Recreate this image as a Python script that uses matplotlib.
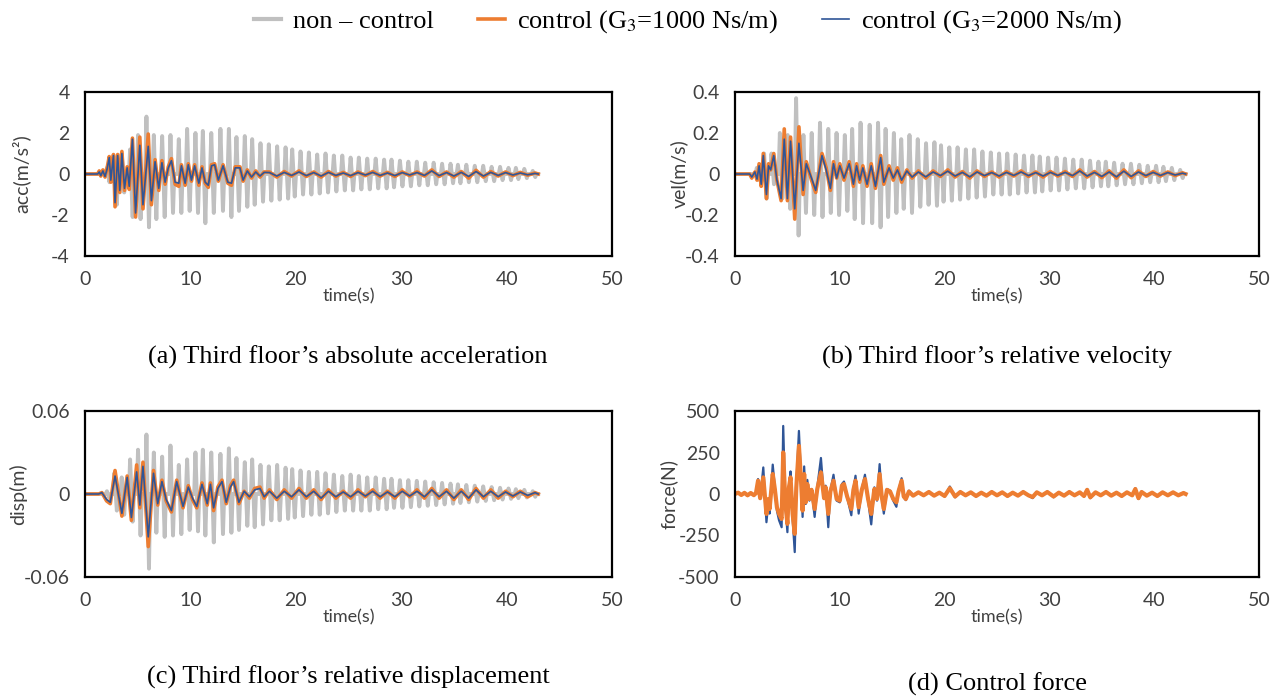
import numpy as np
import matplotlib
matplotlib.use("Agg")
import matplotlib.pyplot as plt

plt.rcParams['font.family'] = ['Lato', 'DejaVu Sans']
plt.rcParams['mathtext.fontset'] = 'stix'

# colores
GRIS = '#C0C0C0'
NARANJA = '#ED7D31'
AZUL = '#2F5597'

# ---- datos: non-control (picos por ciclo) ----
t_ciclo = [2.2, 2.9, 3.6, 4.4, 5.15, 5.95, 6.65, 7.44, 8.23, 9.02, 9.81, 10.6, 11.3, 12.1, 12.97,
           13.77, 14.49, 15.28, 15.98, 16.77, 17.56, 18.35, 19.15, 19.78, 20.57, 21.36, 22.15,
           22.94, 23.73, 24.53, 25.32, 26.1, 26.9, 27.7, 28.5, 29.2, 30.0, 30.8, 31.6, 32.4,
           33.2, 34.0, 34.8, 35.5, 36.3, 37.1, 37.9, 38.7, 39.5, 40.3, 41.0, 41.8, 42.6]

acc_nc_max = [0.3, 0.8, 1.0, 1.2, 1.9, 2.8, 1.9, 1.85, 1.9, 1.7, 2.2, 2.0, 2.1, 2.0, 2.2, 2.2, 1.8,
              1.85, 1.7, 1.5, 1.45, 1.35, 1.3, 1.2, 1.1, 1.05, 0.95, 1.0, 0.9, 0.9, 0.8, 0.8, 0.75,
              0.75, 0.7, 0.7, 0.65, 0.6, 0.6, 0.55, 0.55, 0.5, 0.5, 0.45, 0.45, 0.4, 0.4, 0.35,
              0.35, 0.3, 0.3, 0.25, 0.15]
acc_nc_min = [-0.4, -1.5, -0.9, -2.1, -2.2, -2.6, -2.2, -2.1, -1.9, -1.9, -1.8, -1.9, -2.4, -1.9,
              -1.8, -2.1, -1.8, -1.6, -1.5, -1.35, -1.3, -1.25, -1.2, -1.1, -1.0, -1.0, -0.95, -0.9,
              -0.85, -0.8, -0.8, -0.75, -0.75, -0.7, -0.7, -0.65, -0.6, -0.6, -0.55, -0.55, -0.5,
              -0.5, -0.45, -0.45, -0.4, -0.4, -0.35, -0.35, -0.3, -0.3, -0.25, -0.2, -0.15]

vel_nc_max = [0.03, 0.1, 0.1, 0.2, 0.19, 0.37, 0.19, 0.2, 0.25, 0.22, 0.2, 0.19, 0.22, 0.25, 0.24,
              0.25, 0.22, 0.2, 0.17, 0.19, 0.17, 0.15, 0.155, 0.14, 0.13, 0.13, 0.12, 0.12, 0.11,
              0.105, 0.1, 0.1, 0.095, 0.09, 0.09, 0.085, 0.08, 0.08, 0.075, 0.07, 0.07, 0.065,
              0.06, 0.06, 0.055, 0.05, 0.05, 0.045, 0.04, 0.04, 0.035, 0.03, 0.02]
vel_nc_min = [-0.03, -0.12, -0.05, -0.12, -0.17, -0.3, -0.19, -0.2, -0.21, -0.19, -0.2, -0.18,
              -0.22, -0.24, -0.24, -0.26, -0.21, -0.19, -0.17, -0.19, -0.16, -0.15, -0.155, -0.135,
              -0.13, -0.125, -0.12, -0.115, -0.11, -0.1, -0.1, -0.1, -0.095, -0.09, -0.09, -0.085,
              -0.08, -0.08, -0.075, -0.07, -0.07, -0.065, -0.06, -0.06, -0.055, -0.05, -0.05,
              -0.045, -0.04, -0.04, -0.035, -0.03, -0.02]

disp_nc_max = [0.002, 0.015, 0.012, 0.025, 0.032, 0.043, 0.03, 0.027, 0.035, 0.021, 0.025, 0.03,
               0.032, 0.03, 0.029, 0.033, 0.026, 0.023, 0.025, 0.021, 0.02, 0.021, 0.019, 0.018,
               0.017, 0.016, 0.016, 0.015, 0.014, 0.013, 0.014, 0.013, 0.012, 0.012, 0.011, 0.011,
               0.01, 0.01, 0.0095, 0.009, 0.0085, 0.008, 0.0075, 0.007, 0.0065, 0.006, 0.0055,
               0.005, 0.0045, 0.004, 0.0035, 0.003, 0.002]
disp_nc_min = [-0.003, -0.012, -0.015, -0.02, -0.03, -0.054, -0.028, -0.031, -0.03, -0.029,
               -0.026, -0.027, -0.03, -0.035, -0.029, -0.028, -0.026, -0.023, -0.024, -0.022,
               -0.019, -0.019, -0.018, -0.017, -0.016, -0.015, -0.015, -0.014, -0.013, -0.012,
               -0.012, -0.012, -0.012, -0.011, -0.011, -0.01, -0.01, -0.0095, -0.009, -0.0085,
               -0.008, -0.0075, -0.007, -0.0065, -0.006, -0.0055, -0.005, -0.0045, -0.004,
               -0.0035, -0.003, -0.0025, -0.002]

# ---- datos: control (extremos) ----
t_acc = [0, 1.2, 1.35, 1.5, 1.7, 1.9, 2.1, 2.3, 2.45, 2.7, 2.85, 3.1, 3.3, 3.5, 3.75, 4.0, 4.2,
         4.5, 4.8, 5.2, 5.5, 6.0, 6.3, 6.65, 7.0, 7.3, 7.6, 7.9, 8.2, 8.55, 8.9, 9.15, 9.5, 9.8,
         10.1, 10.4, 10.8, 11.1, 11.4, 11.7, 12.0, 12.3, 12.65, 13.1, 13.55, 13.9, 14.25, 14.7,
         15.0, 15.4, 15.8, 16.2, 16.6, 17.0]
acc_1000 = [0, 0, 0.15, -0.1, 0.2, -0.15, 0.3, 0.85, -0.4, 0.95, -1.6, 0.95, -0.9, 1.1, -0.8,
            0.35, -0.75, 1.75, -2.1, 1.8, -1.7, 1.95, -1.5, 0.7, -0.8, 0.65, -0.5, 0.35, 0.75,
            -0.5, -0.6, 0.45, -0.55, 0.5, -0.35, 0.45, -0.55, 0.35, -0.45, -0.65, 0.45, 0.5,
            -0.35, 0.45, -0.45, -0.55, 0.35, 0.35, -0.35, 0.2, -0.2, 0.15, -0.15, 0.1]
acc_2000 = [0, 0, 0.1, -0.08, 0.15, -0.12, 0.25, 0.8, -0.3, 0.9, -1.4, 0.9, -0.8, 1.0, -0.7, 0.3,
            -0.6, 1.7, -1.9, 1.4, -1.5, 1.35, -1.3, 0.6, -0.7, 0.55, -0.4, 0.3, 0.65, -0.4, -0.45,
            0.4, -0.45, 0.45, -0.3, 0.4, -0.45, 0.3, -0.4, -0.55, 0.4, 0.45, -0.3, 0.4, -0.4,
            -0.45, 0.3, 0.3, -0.3, 0.15, -0.15, 0.1, -0.1, 0.08]

t_vel = [0, 1.4, 1.6, 1.9, 2.1, 2.3, 2.5, 2.7, 3.0, 3.2, 3.4, 3.7, 4.0, 4.4, 4.7, 5.0, 5.3, 5.7,
         6.1, 6.5, 6.8, 7.3, 7.7, 8.3, 8.7, 9.1, 9.4, 9.7, 10.0, 10.4, 10.9, 11.3, 11.6, 11.9,
         12.2, 12.6, 13.0, 13.4, 13.9, 14.2, 14.7, 15.1, 15.5, 15.9, 16.4, 16.9]
vel_1000 = [0, 0, -0.02, 0.01, -0.03, 0.05, -0.06, 0.1, -0.12, 0.05, 0.02, 0.1, -0.03, -0.13,
            0.22, -0.13, 0.18, -0.22, 0.23, -0.1, 0.06, -0.03, -0.09, 0.1, 0.03, -0.08, 0.06,
            -0.02, 0.05, -0.03, 0.06, -0.06, 0.05, -0.04, 0.04, -0.06, 0.05, -0.07, 0.09, -0.05,
            0.04, -0.03, 0.03, -0.04, 0.02, -0.02]
vel_2000 = [0, 0, -0.015, 0.01, -0.025, 0.04, -0.05, 0.09, -0.1, 0.04, 0.02, 0.09, -0.03, -0.12,
            0.17, -0.12, 0.16, -0.17, 0.15, -0.08, 0.05, -0.02, -0.08, 0.09, 0.02, -0.07, 0.05,
            -0.02, 0.04, -0.02, 0.05, -0.05, 0.04, -0.03, 0.03, -0.05, 0.04, -0.06, 0.08, -0.04,
            0.03, -0.02, 0.02, -0.03, 0.015, -0.015]

t_disp = [0, 1.3, 1.6, 2.05, 2.4, 2.85, 3.5, 4.0, 4.4, 4.9, 5.2, 5.5, 6.0, 6.5, 6.9, 7.3, 7.7,
          8.2, 8.7, 9.3, 9.8, 10.2, 10.6, 11.1, 11.6, 11.9, 12.2, 12.6, 13.0, 13.4, 13.8, 14.1,
          14.6, 15.1, 15.6, 16.1, 16.6, 17.0]
disp_1000 = [0, 0, 0.001, -0.005, -0.007, 0.017, -0.016, 0.013, -0.019, 0.021, -0.01, 0.023,
             -0.038, 0.017, -0.008, 0.01, -0.005, -0.013, 0.01, -0.01, 0.006, -0.004, -0.01,
             0.008, -0.008, 0.008, -0.012, 0.005, 0.01, -0.007, 0.006, 0.01, -0.007, 0.002,
             -0.003, 0.004, 0.005, -0.003]
disp_2000 = [0, 0, 0.001, -0.004, -0.006, 0.013, -0.014, 0.012, -0.017, 0.016, -0.008, 0.02,
             -0.031, 0.015, -0.007, 0.009, -0.004, -0.012, 0.009, -0.009, 0.005, -0.003, -0.009,
             0.007, -0.007, 0.007, -0.01, 0.004, 0.009, -0.006, 0.005, 0.009, -0.006, 0.002,
             -0.002, 0.003, 0.004, -0.002]

# tramo final (t > 17 s), comun a a/b/c
t_final = [17.5, 18.2, 18.9, 19.6, 20.3, 21.0, 21.7, 22.4, 23.1, 23.8, 24.5, 25.2, 25.9, 26.6,
           27.3, 28.0, 28.7, 29.4, 30.1, 30.8, 31.5, 32.2, 32.9, 33.6, 34.3, 35.0, 35.7, 36.4,
           37.1, 37.8, 38.5, 39.2, 39.9, 40.6, 41.3, 42.0, 42.7, 43.0]
acc_1000_f = [0.1, -0.15, 0.12, -0.1, 0.15, -0.12, 0.1, -0.15, 0.12, -0.1, 0.08, -0.12, 0.1,
              -0.08, 0.12, -0.1, 0.08, -0.12, 0.1, -0.08, 0.1, -0.1, 0.2, -0.12, 0.1, -0.15,
              0.12, -0.2, 0.18, -0.15, 0.12, -0.1, 0.1, -0.08, 0.08, -0.06, 0.05, 0]
acc_2000_f = [0.07, -0.1, 0.08, -0.07, 0.1, -0.08, 0.07, -0.1, 0.08, -0.07, 0.05, -0.08, 0.07,
              -0.05, 0.08, -0.07, 0.05, -0.08, 0.07, -0.05, 0.07, -0.07, 0.15, -0.08, 0.07, -0.1,
              0.08, -0.12, 0.12, -0.1, 0.08, -0.07, 0.07, -0.05, 0.05, -0.04, 0.03, 0]
vel_1000_f = [0.015, -0.02, 0.015, -0.012, 0.02, -0.015, 0.012, -0.02, 0.015, -0.012, 0.01,
              -0.015, 0.012, -0.01, 0.015, -0.012, 0.01, -0.015, 0.012, -0.01, 0.012, -0.012,
              0.02, -0.015, 0.012, -0.018, 0.015, -0.02, 0.02, -0.018, 0.015, -0.012, 0.012,
              -0.01, 0.01, -0.008, 0.006, 0]
vel_2000_f = [0.01, -0.014, 0.01, -0.008, 0.014, -0.01, 0.008, -0.014, 0.01, -0.008, 0.007,
              -0.01, 0.008, -0.007, 0.01, -0.008, 0.007, -0.01, 0.008, -0.007, 0.008, -0.008,
              0.015, -0.01, 0.008, -0.012, 0.01, -0.014, 0.014, -0.012, 0.01, -0.008, 0.008,
              -0.007, 0.007, -0.005, 0.004, 0]
disp_1000_f = [0.003, -0.004, 0.003, -0.003, 0.004, -0.003, 0.003, -0.004, 0.003, -0.003, 0.002,
               -0.003, 0.003, -0.002, 0.003, -0.003, 0.002, -0.003, 0.003, -0.002, 0.003, -0.003,
               0.004, -0.003, 0.003, -0.004, 0.003, -0.004, 0.004, -0.003, 0.003, -0.003, 0.002,
               -0.002, 0.002, -0.002, 0.001, 0]
disp_2000_f = [0.002, -0.003, 0.002, -0.002, 0.003, -0.002, 0.002, -0.003, 0.002, -0.002, 0.0015,
               -0.002, 0.002, -0.0015, 0.002, -0.002, 0.0015, -0.002, 0.002, -0.0015, 0.002,
               -0.002, 0.003, -0.002, 0.002, -0.003, 0.002, -0.003, 0.003, -0.002, 0.002, -0.002,
               0.0015, -0.0015, 0.0015, -0.001, 0.001, 0]

# fuerza de control
t_force = [0, 0.3, 0.6, 0.9, 1.2, 1.5, 1.8, 2.0, 2.2, 2.4, 2.7, 3.0, 3.2, 3.3, 3.6, 3.8, 4.0, 4.2,
           4.45, 4.6, 4.8, 5.0, 5.15, 5.3, 5.5, 5.7, 5.85, 6.1, 6.3, 6.45, 6.6, 6.75, 6.9, 7.1,
           7.3, 7.6, 7.85, 8.2, 8.5, 8.65, 8.9, 9.1, 9.4, 9.7, 10.0, 10.2, 10.4, 10.7, 11.1, 11.3,
           11.5, 11.8, 12.1, 12.4, 12.7, 13.0, 13.3, 13.55, 13.8, 14.0, 14.2, 14.5, 14.8, 15.1,
           15.4, 15.6, 15.9, 16.1, 16.3, 16.6, 17.0,
           17.5, 18.0, 18.5, 19.0, 19.5, 20.0, 20.5, 21.0, 21.5, 22.0, 22.5, 23.0, 23.5, 24.0,
           24.5, 25.0, 25.5, 26.0, 26.5, 27.0, 27.5, 28.0, 28.4, 28.8, 29.3, 29.8, 30.4, 30.9,
           31.4, 31.9, 32.4, 32.9, 33.3, 33.6, 33.9, 34.4, 34.9, 35.4, 35.9, 36.4, 36.9, 37.4,
           37.9, 38.2, 38.5, 38.8, 39.3, 39.8, 40.3, 40.8, 41.3, 41.8, 42.3, 42.8, 43.0]
force_2000 = [0, 8, -6, 7, -8, 6, -7, 5, 90, -30, 160, -170, -40, -118, 177, 40, -100, -158, -200,
              410, -60, -230, 50, 136, -150, -350, 50, 380, 100, -138, 166, -60, 85, -40, 30,
              -138, 40, 217, -30, 50, -200, 20, 116, -40, -50, 60, 75, -20, -128, 30, 110, -118,
              30, 116, -40, -183, 40, -40, 180, -20, -118, 30, 20, -40, -77, 20, 95, -20, -37,
              20, -10,
              12, -10, 15, -12, 10, -15, 45, -20, 15, -10, 12, -15, 10, -12, 15, -10, 12, -15,
              10, -12, 15, -10, -25, 12, -10, 15, -20, 10, -12, 15, -10, 12, -15, 30, -25, 12,
              -10, 15, -12, 10, -15, 12, -10, 35, -30, 15, -12, 10, -15, 12, -10, 12, -10, 8, 0]
force_1000 = [0, 8, -6, 7, -8, 6, -7, 5, 80, -25, 100, -120, -30, -90, 120, 30, -80, -120, -150,
              250, -50, -180, 40, 100, -120, -240, 40, 290, 80, -100, 120, -50, 60, -30, 25, -90,
              30, 130, -25, 40, -120, 15, 80, -30, -40, 50, 60, -15, -90, 25, 80, -80, 25, 90,
              -30, -120, 30, -30, 120, -15, -90, 25, 15, -30, -50, 15, 80, -15, -30, 15, -10,
              10, -8, 12, -10, 8, -12, 35, -15, 12, -8, 10, -12, 8, -10, 12, -8, 10, -12, 8, -10,
              12, -8, -18, 10, -8, 12, -15, 8, -10, 12, -8, 10, -12, 25, -20, 10, -8, 12, -10, 8,
              -12, 10, -8, 30, -25, 12, -10, 8, -12, 10, -8, 10, -8, 6, 0]


def serie_gris(tp, maxs, mins, d=0.12):
    # cada ciclo se dibuja como una barra estrecha: 0 -> pico -> valle -> 0
    t = [0, 1.8]
    v = [0, 0]
    for ti, hi, lo in zip(tp, maxs, mins):
        t += [ti - 2 * d, ti - d, ti + d, ti + 2 * d]
        v += [0, hi, lo, 0]
    t.append(43.0)
    v.append(0)
    return t, v


def formato(ax, ylim, yticks, ylabels, ylabel, ylab_x):
    ax.set_xlim(0, 50)
    ax.set_xticks([0, 10, 20, 30, 40, 50])
    ax.set_ylim(*ylim)
    ax.set_yticks(yticks)
    ax.set_yticklabels(ylabels)
    ax.tick_params(length=0, labelsize=14, colors='#404040', pad=11)
    for s in ax.spines.values():
        s.set_linewidth(1.6)
        s.set_color('black')
    ax.set_xlabel('time(s)', fontsize=13, color='#404040', labelpad=0)
    ax.set_ylabel(ylabel, fontsize=14, color='#404040')
    ax.yaxis.set_label_coords(ylab_x, 0.5)


W, H = 1281, 698
fig = plt.figure(figsize=(W / 100, H / 100), dpi=100)


def caja(x0, y0, x1, y1):
    return fig.add_axes([x0 / W, 1 - y1 / H, (x1 - x0) / W, (y1 - y0) / H])


ax_a = caja(85, 92, 612, 256)
ax_b = caja(735, 92, 1259, 256)
ax_c = caja(85, 411, 612, 577)
ax_d = caja(735, 411, 1259, 577)

paneles = [
    (ax_a, acc_nc_max, acc_nc_min, t_acc, acc_1000, acc_2000, acc_1000_f, acc_2000_f),
    (ax_b, vel_nc_max, vel_nc_min, t_vel, vel_1000, vel_2000, vel_1000_f, vel_2000_f),
    (ax_c, disp_nc_max, disp_nc_min, t_disp, disp_1000, disp_2000, disp_1000_f, disp_2000_f),
]
for ax, nmax, nmin, tc, c1, c2, c1f, c2f in paneles:
    tg, vg = serie_gris(t_ciclo, nmax, nmin)
    ax.plot(tg, vg, color=GRIS, lw=2.8)
    ax.plot(tc + t_final, c1 + c1f, color=NARANJA, lw=2.6)
    ax.plot(tc + t_final, c2 + c2f, color=AZUL, lw=1.2)

ax_d.plot(t_force, force_2000, color=AZUL, lw=1.6)
ax_d.plot(t_force, force_1000, color=NARANJA, lw=3.0)

formato(ax_a, (-4, 4), [-4, -2, 0, 2, 4], ['-4', '-2', '0', '2', '4'], 'acc(m/s²)', -0.104)
formato(ax_b, (-0.4, 0.4), [-0.4, -0.2, 0, 0.2, 0.4], ['-0.4', '-0.2', '0', '0.2', '0.4'],
        'vel(m/s)', -0.09)
formato(ax_c, (-0.06, 0.06), [-0.06, 0, 0.06], ['-0.06', '0', '0.06'], 'disp(m)', -0.11)
formato(ax_d, (-500, 500), [-500, -250, 0, 250, 500], ['-500', '-250', '0', '250', '500'],
        'force(N)', -0.109)

serif = ['Liberation Serif', 'DejaVu Serif']
fig.text(348 / W, 1 - 357 / H, '(a) Third floor\u2019s absolute acceleration', ha='center', va='center',
         fontsize=19, family=serif)
fig.text(997 / W, 1 - 357 / H, '(b) Third floor\u2019s relative velocity', ha='center', va='center',
         fontsize=19, family=serif)
fig.text(348 / W, 1 - 677 / H, '(c) Third floor\u2019s relative displacement', ha='center', va='center',
         fontsize=19, family=serif)
fig.text(997 / W, 1 - 684 / H, '(d) Control force', ha='center', va='center',
         fontsize=19, family=serif)

h1, = ax_a.plot([], [], color=GRIS, lw=3.0)
h2, = ax_a.plot([], [], color=NARANJA, lw=2.6)
h3, = ax_a.plot([], [], color=AZUL, lw=1.2)
fig.legend([h1, h2, h3],
           ['non \u2013 control', 'control (G$_{3}$=1000 Ns/m)', 'control (G$_{3}$=2000 Ns/m)'],
           loc='center', bbox_to_anchor=(688 / W, 1 - 22 / H), ncol=3, frameon=False,
           prop={'family': serif, 'size': 19}, handlelength=1.0, columnspacing=1.7,
           handletextpad=0.45)

fig.savefig('out.png', dpi=100)
